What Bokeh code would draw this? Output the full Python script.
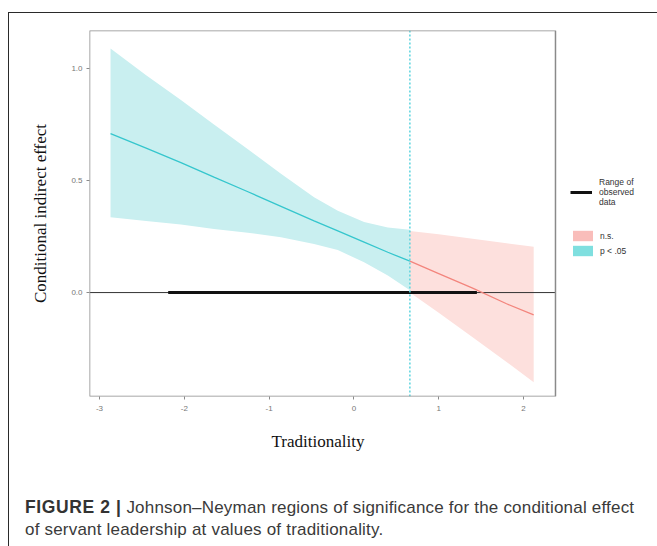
from bokeh.plotting import figure
from bokeh.models import (Range1d, FixedTicker, Span, Legend, LegendItem, Spacer, Div,
                          BoxAnnotation, Title)
from bokeh.layouts import column, row
from bokeh.embed import file_html
from bokeh.resources import INLINE

# --- data ---
trad_sig = [-2.87, -2.45, -2.04, -1.65, -1.25, -0.86, -0.47, -0.19, 0.12, 0.40, 0.66]
upper_sig = [1.09, 0.97, 0.86, 0.75, 0.64, 0.53, 0.425, 0.365, 0.315, 0.29, 0.28]
lower_sig = [0.336, 0.32, 0.304, 0.284, 0.267, 0.247, 0.217, 0.19, 0.135, 0.076, 0.01]
effect_sig = [0.71, 0.645, 0.58, 0.515, 0.45, 0.385, 0.32, 0.275, 0.225, 0.18, 0.14]

trad_ns = [0.66, 1.0, 1.4, 1.8, 2.12]
upper_ns = [0.275, 0.26, 0.24, 0.22, 0.205]
lower_ns = [0.0, -0.09, -0.20, -0.31, -0.40]
effect_ns = [0.14, 0.085, 0.02, -0.05, -0.10]

observed_range = [-2.19, 1.45]
jn_point = 0.66

x_ticks = [-3, -2, -1, 0, 1, 2]
x_tick_labels = ["-3", "-2", "-1", "0", "1", "2"]
y_ticks = [0.0, 0.5, 1.0]
y_tick_labels = ["0.0", "0.5", "1.0"]

# panel (axis) limits
PANEL_X = (-3.118, 2.377)
PANEL_Y = (-0.464, 1.17)
FRAME_X_END = 3.58   # frame continues to the right to hold the legend

CYAN_LINE = "#35c6cd"
CYAN_FILL = "#c9eff0"
RED_LINE = "#f3857d"
RED_FILL = "#fde0dd"
FRAME = "#2a2a2a"

p = figure(width=648, height=457, output_backend="svg", toolbar_location=None,
           x_range=Range1d(PANEL_X[0], FRAME_X_END), y_range=Range1d(*PANEL_Y),
           min_border_left=80, min_border_right=0, min_border_top=17, min_border_bottom=74,
           background_fill_color="white", border_fill_color="white")

p.grid.visible = False
p.outline_line_color = None

# bands
p.varea(x=trad_sig, y1=lower_sig, y2=upper_sig, fill_color=CYAN_FILL, fill_alpha=1)
p.varea(x=trad_ns, y1=lower_ns, y2=upper_ns, fill_color=RED_FILL, fill_alpha=1)

# zero line across the panel
p.segment(x0=[PANEL_X[0]], y0=[0], x1=[PANEL_X[1]], y1=[0], line_color="#333333", line_width=1)

# effect lines
p.line(trad_sig, effect_sig, line_color=CYAN_LINE, line_width=1.3)
p.line(trad_ns, effect_ns, line_color=RED_LINE, line_width=1.3)

# observed data range
obs = p.line(observed_range, [0, 0], line_color="#111111", line_width=3)

# JN point
p.add_layout(Span(location=jn_point, dimension="height", line_color="#5ad4de",
                  line_width=1.5, line_dash="2 2"))

# panel border
p.add_layout(BoxAnnotation(left=PANEL_X[0], right=PANEL_X[1], bottom=PANEL_Y[0], top=PANEL_Y[1],
                           fill_alpha=0, line_color="#8a8a8a", line_alpha=1, line_width=1.5))

# legend-only renderers (hidden in the plot)
ns_key = p.varea(x=trad_ns, y1=lower_ns, y2=upper_ns, fill_color="#f9bdba", visible=False)
sig_key = p.varea(x=trad_sig, y1=lower_sig, y2=upper_sig, fill_color="#7fdfdf", visible=False)

leg1 = Legend(items=[LegendItem(label="Range of\nobserved\ndata", renderers=[obs])],
              location=(481, 189), glyph_width=22, glyph_height=14, label_standoff=7,
              padding=0, margin=0, spacing=0, background_fill_alpha=0, border_line_color=None,
              label_text_font="Liberation Sans", label_text_font_size="8.5px",
              label_text_color="#333333", label_text_line_height=1.1)
leg2 = Legend(items=[LegendItem(label="n.s.", renderers=[ns_key]),
                     LegendItem(label="p < .05", renderers=[sig_key])],
              location=(481, 139), glyph_width=25, glyph_height=13, label_standoff=5,
              padding=0, margin=0, spacing=2, background_fill_alpha=0, border_line_color=None,
              label_text_font="Liberation Sans", label_text_font_size="8.5px",
              label_text_color="#333333")
p.add_layout(leg1)
p.add_layout(leg2)

# axes
for ax in (p.xaxis[0], p.yaxis[0]):
    ax.axis_line_color = None
    ax.major_tick_line_color = "#8a8a8a"
    ax.major_tick_out = 3
    ax.major_tick_in = 0
    ax.minor_tick_line_color = None
    ax.major_label_text_font = "Liberation Sans"
    ax.major_label_text_font_size = "8px"
    ax.major_label_text_color = "#777777"

p.xaxis.ticker = FixedTicker(ticks=x_ticks)
p.xaxis.major_label_overrides = dict(zip(x_ticks, x_tick_labels))
p.xaxis.major_label_standoff = 6

p.yaxis.ticker = FixedTicker(ticks=y_ticks)
p.yaxis.major_label_overrides = dict(zip(y_ticks, y_tick_labels))
p.yaxis.major_label_standoff = 4
p.yaxis.axis_label = "Conditional indirect effect"
p.yaxis.axis_label_text_font = "Liberation Serif"
p.yaxis.axis_label_text_font_size = "17px"
p.yaxis.axis_label_text_font_style = "normal"
p.yaxis.axis_label_text_color = "#111111"
p.yaxis.axis_label_standoff = 18

# x-axis title, centred under the panel
p.add_layout(Title(text="Traditionality", align="left", offset=182, standoff=32,
                   text_font="Liberation Serif", text_font_size="17px",
                   text_font_style="normal", text_color="#111111"), "below")

# caption
caption = Div(
    text=('<div style="padding:21px 0 0 11px; font-family:\'Liberation Sans\'; '
          'font-size:17px; letter-spacing:0.2px; line-height:22px; color:#3a3a3a; '
          'white-space:nowrap;">'
          '<b style="font-size:17.5px; letter-spacing:0.6px; color:#333;">FIGURE 2 |</b> '
          'Johnson\u2013Neyman regions of significance for the conditional effect<br>'
          'of servant leadership at values of traditionality.</div>'),
    width=648, height=76)

# outer frame: top and left edges
layout = column(
    Spacer(width=657, height=12),
    row(Spacer(width=8, height=534),
        column(Spacer(width=649, height=1, styles={"background-color": FRAME}),
               row(Spacer(width=1, height=533, styles={"background-color": FRAME}),
                   column(p, caption, spacing=0), spacing=0),
               spacing=0),
        spacing=0),
    spacing=0)

open("out.html", "w").write(file_html(layout, INLINE))
